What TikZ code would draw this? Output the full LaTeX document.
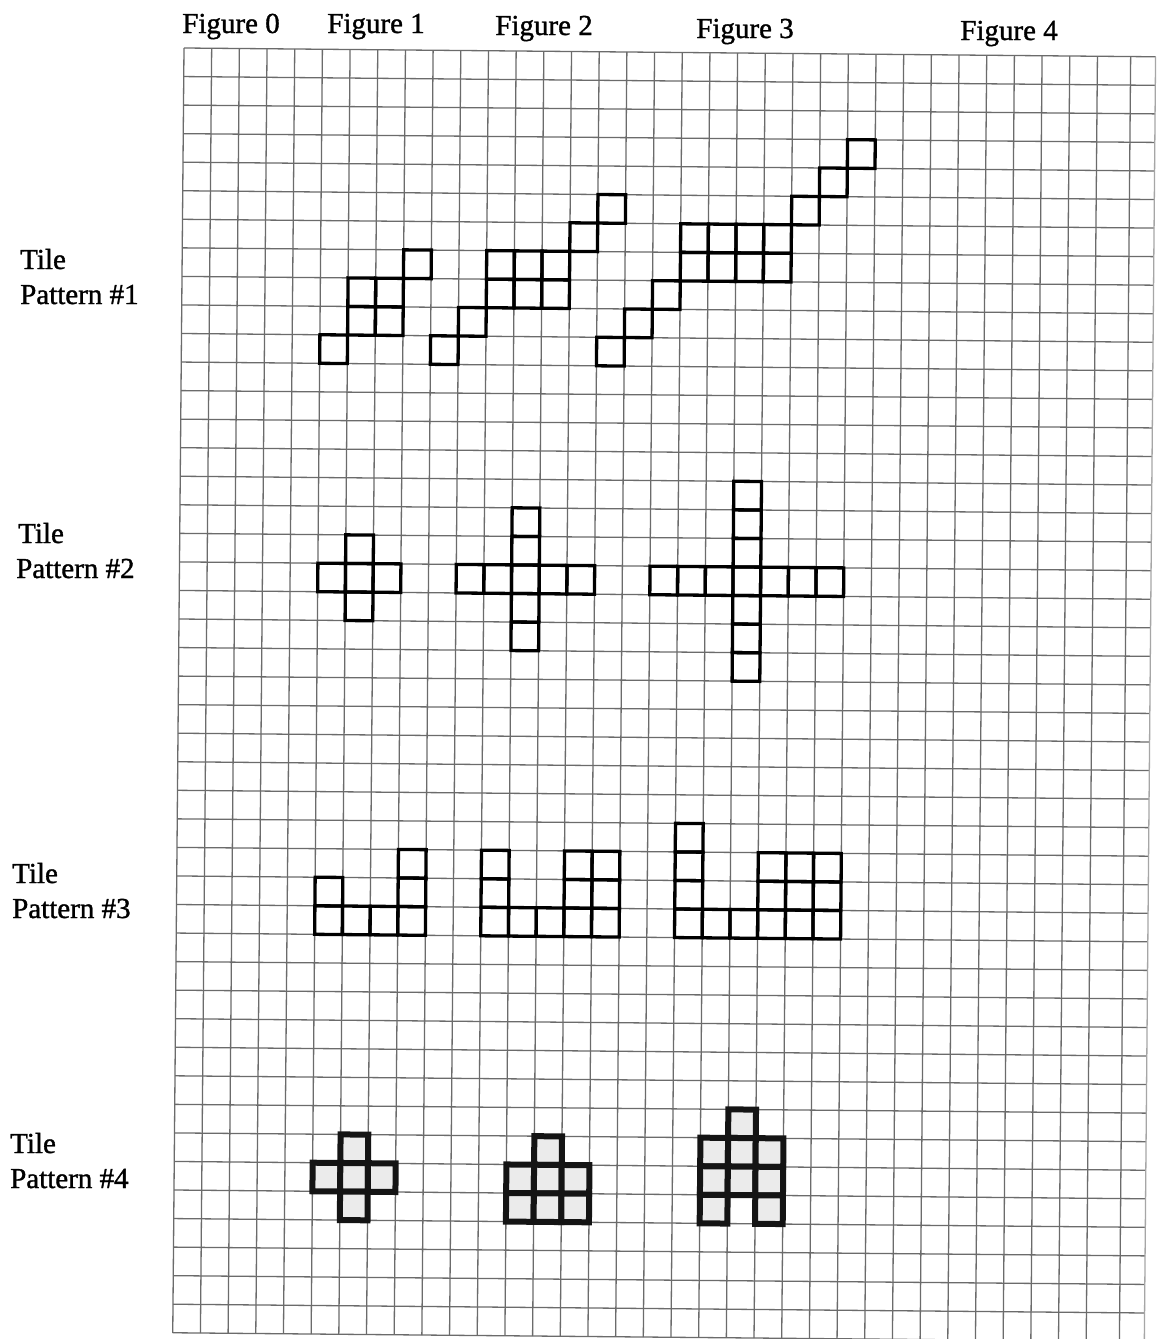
\documentclass[tikz,border=0pt]{standalone}
\usepackage{fontspec}
\setmainfont{Liberation Serif}
\newfontfamily\scanfont{Liberation Serif}[FakeBold=1.2]
\begin{document}
\begin{tikzpicture}[x=1pt,y=-1pt,
  gridline/.style={draw=black!58, line width=1.3pt},
  tile/.style={draw=black, line width=3.3pt, line join=miter},
  heavy/.style={draw=black!92, line width=6pt, fill=black!8, line join=miter},
  lbl/.style={inner sep=0pt, font=\scanfont\fontsize{29}{35}\selectfont}]
\useasboundingbox (0,0) rectangle (1159,1339);
\fill[white] (0,0) rectangle (1159,1339);
% column headings
\node[lbl, anchor=base] (f0) at (231,33) {Figure 0};
\node[lbl, anchor=base] (f1) at (376,33) {Figure 1};
\node[lbl, anchor=base] (f2) at (544,35) {Figure 2};
\node[lbl, anchor=base] (f3) at (745,38) {Figure 3};
\node[lbl, anchor=base] (f4) at (1009,40) {Figure 4};
% row labels
\node[lbl, anchor=base west] (t1a) at (20,269) {Tile};
\node[lbl, anchor=base west] (t1b) at (20,304) {Pattern \#1};
\node[lbl, anchor=base west] (t2a) at (18,543) {Tile};
\node[lbl, anchor=base west] (t2b) at (16,578) {Pattern \#2};
\node[lbl, anchor=base west] (t3a) at (12,883) {Tile};
\node[lbl, anchor=base west] (t3b) at (12,918) {Pattern \#3};
\node[lbl, anchor=base west] (t4a) at (10,1153) {Tile};
\node[lbl, anchor=base west] (t4b) at (10,1188) {Pattern \#4};
\begin{scope}
\clip (0,0) rectangle (1159,1339);
\begin{scope}[shift={(184,48)}, x={(27.68pt,-0.25pt)}, y={(-0.25pt,-28.55pt)}]
  % graph paper
  \foreach \r in {0,...,45} \draw[gridline] (0,\r) -- (35.1,\r);
  \foreach \c in {0,...,33} \draw[gridline] (\c,0) -- (\c,45);
  \draw[gridline] (34.2,0) -- (34.2,45);
  \draw[gridline, draw=black!35] (35.1,0) -- (35.1,45);
  % Tile Pattern #1
  \foreach \c/\r in {5/10, 6/8, 7/8, 6/9, 7/9, 8/7,
      9/10, 10/9, 11/7, 12/7, 13/7, 11/8, 12/8, 13/8, 14/6, 15/5,
      15/10, 16/9, 17/8, 18/6, 19/6, 20/6, 21/6, 18/7, 19/7, 20/7, 21/7, 22/5, 23/4, 24/3}
    \draw[tile] (\c,\r) -- ++(1,0) -- ++(0,1) -- ++(-1,0) -- cycle;
  % Tile Pattern #2
  \foreach \c/\r in {5/18, 6/18, 7/18, 6/17, 6/19,
      10/18, 11/18, 12/18, 13/18, 14/18, 12/16, 12/17, 12/19, 12/20,
      17/18, 18/18, 19/18, 20/18, 21/18, 22/18, 23/18, 20/15, 20/16, 20/17, 20/19, 20/20, 20/21}
    \draw[tile] (\c,\r) -- ++(1,0) -- ++(0,1) -- ++(-1,0) -- cycle;
  % Tile Pattern #3
  \foreach \c/\r in {5/29, 5/30, 6/30, 7/30, 8/30, 8/29, 8/28,
      11/28, 11/29, 11/30, 12/30, 13/30, 14/28, 14/29, 14/30, 15/28, 15/29, 15/30,
      18/27, 18/28, 18/29, 18/30, 19/30, 20/30, 21/28, 21/29, 21/30, 22/28, 22/29, 22/30, 23/28, 23/29, 23/30}
    \draw[tile] (\c,\r) -- ++(1,0) -- ++(0,1) -- ++(-1,0) -- cycle;
  % Tile Pattern #4
  \foreach \c/\r in {6/38, 5/39, 6/39, 7/39, 6/40,
      13/38, 12/39, 13/39, 14/39, 12/40, 13/40, 14/40,
      20/37, 19/38, 20/38, 21/38, 19/39, 20/39, 21/39, 19/40, 21/40}
    \draw[heavy] (\c,\r) -- ++(1,0) -- ++(0,1) -- ++(-1,0) -- cycle;
\end{scope}
\end{scope}
\end{tikzpicture}
\end{document}
